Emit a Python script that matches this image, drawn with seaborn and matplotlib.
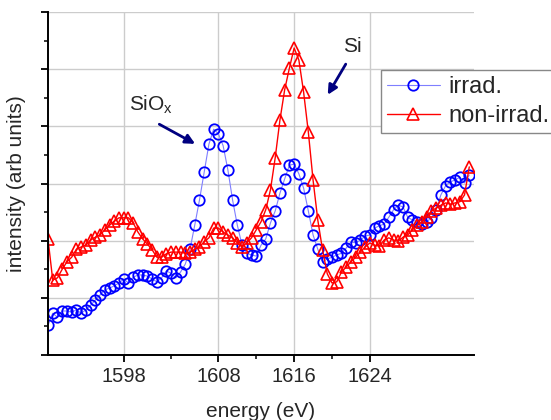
import numpy as np
import pandas as pd
import matplotlib
matplotlib.use("Agg")
import matplotlib.pyplot as plt
import seaborn as sns
from matplotlib.ticker import FixedLocator, MultipleLocator

# energy grid (eV), 0.5 eV steps
energy = [1590.0 + 0.5 * i for i in range(90)]

irrad = [
    0.52, 0.73, 0.66, 0.77, 0.77, 0.75, 0.79, 0.73, 0.79, 0.87,
    0.96, 1.05, 1.14, 1.17, 1.21, 1.26, 1.33, 1.26, 1.36, 1.40,
    1.40, 1.38, 1.33, 1.28, 1.35, 1.47, 1.43, 1.35, 1.45, 1.59,
    1.85, 2.27, 2.71, 3.20, 3.69, 3.95, 3.87, 3.66, 3.24, 2.71,
    2.27, 1.92, 1.78, 1.75, 1.73, 1.92, 2.03, 2.31, 2.52, 2.83,
    3.08, 3.32, 3.34, 3.17, 2.92, 2.52, 2.10, 1.85, 1.63, 1.68,
    1.71, 1.75, 1.78, 1.87, 1.98, 1.96, 2.01, 2.08, 2.10, 2.22,
    2.26, 2.29, 2.41, 2.54, 2.62, 2.59, 2.41, 2.36, 2.33, 2.29,
    2.33, 2.40, 2.54, 2.80, 2.96, 3.03, 3.06, 3.11, 3.01, 3.15,
]

non_irrad = [
    2.03, 1.31, 1.35, 1.50, 1.63, 1.71, 1.85, 1.89, 1.92, 2.01,
    2.06, 2.10, 2.19, 2.27, 2.34, 2.40, 2.40, 2.40, 2.31, 2.15,
    2.03, 1.94, 1.84, 1.71, 1.71, 1.77, 1.80, 1.80, 1.80, 1.78,
    1.80, 1.85, 1.89, 1.98, 2.05, 2.22, 2.22, 2.15, 2.10, 2.05,
    1.96, 1.89, 1.96, 2.05, 2.19, 2.33, 2.54, 2.89, 3.45, 4.11,
    4.64, 5.02, 5.37, 5.16, 4.60, 3.90, 3.06, 2.36, 1.84, 1.42,
    1.26, 1.28, 1.45, 1.54, 1.63, 1.71, 1.80, 1.89, 1.96, 1.92,
    1.91, 2.01, 2.05, 2.01, 1.99, 2.06, 2.10, 2.19, 2.27, 2.33,
    2.41, 2.52, 2.57, 2.62, 2.66, 2.64, 2.66, 2.68, 2.80, 3.29,
]

x_major = [1598, 1608, 1616, 1624]
x_minor = [1603, 1612, 1620]

sns.set_style("white")
plt.rcParams["font.family"] = ["Liberation Sans", "DejaVu Sans"]
plt.rcParams["mathtext.default"] = "regular"

df = pd.DataFrame({"energy": energy, "irrad": irrad, "non_irrad": non_irrad})

fig = plt.figure(figsize=(5.51, 4.20), dpi=100)
ax = fig.add_axes([48 / 551, 65 / 420, (474 - 48) / 551, (355 - 12) / 420])

sns.lineplot(data=df, x="energy", y="irrad", ax=ax, sort=False,
             color="#7f7fff", linewidth=0.8, marker="o", markersize=7.5,
             markerfacecolor="none", markeredgecolor="#0000ff",
             markeredgewidth=1.3, label="irrad.")
sns.lineplot(data=df, x="energy", y="non_irrad", ax=ax, sort=False,
             color="#ff0000", linewidth=1.0, marker="^", markersize=9,
             markerfacecolor="none", markeredgecolor="#ff0000",
             markeredgewidth=1.2, label="non-irrad.")

ax.set_xlim(1590, 1635)
ax.set_ylim(0, 6)
ax.xaxis.set_major_locator(FixedLocator(x_major))
ax.xaxis.set_minor_locator(FixedLocator(x_minor))
ax.yaxis.set_major_locator(MultipleLocator(1))
ax.yaxis.set_minor_locator(MultipleLocator(0.5))

ax.grid(True, which="major", color="#cccccc", linewidth=1)
ax.set_axisbelow(True)
for side in ["top", "right"]:
    ax.spines[side].set_visible(False)
for side in ["left", "bottom"]:
    ax.spines[side].set_color("black")
    ax.spines[side].set_linewidth(1.4)

ax.tick_params(which="major", direction="out", length=5, width=1.3, color="black",
               labelsize=14.5, pad=4, left=True, bottom=True)
ax.tick_params(which="minor", direction="out", length=3, width=1.1, color="black",
               left=True, bottom=True)
ax.tick_params(axis="y", which="both", labelleft=False)

ax.set_xlabel("energy (eV)", fontsize=15, labelpad=11)
ax.set_ylabel("intensity (arb units)", fontsize=15, labelpad=11)

# peak labels with arrows
arrow_color = "#000080"
ax.annotate("", xy=(1605.8, 3.67), xytext=(1601.5, 4.06),
            arrowprops=dict(arrowstyle="-|>", color=arrow_color, lw=2, mutation_scale=14))
ax.text(1600.9, 4.37, "SiO$_{x}$", fontsize=15, ha="center", va="center")
ax.annotate("", xy=(1619.4, 4.51), xytext=(1621.6, 5.13),
            arrowprops=dict(arrowstyle="-|>", color=arrow_color, lw=2, mutation_scale=14))
ax.text(1622.1, 5.39, "Si", fontsize=15, ha="center", va="center")

leg = ax.legend(loc="upper left", bbox_to_anchor=(381 / 551, 1 - 70 / 420),
                bbox_transform=fig.transFigure, fontsize=17, frameon=True,
                fancybox=False, framealpha=1, edgecolor="#888888",
                borderpad=0.25, borderaxespad=0, handlelength=2.25,
                handletextpad=0.35, labelspacing=0.3)
leg.get_frame().set_linewidth(1.0)

fig.savefig("out.png", dpi=100)
plt.close(fig)
